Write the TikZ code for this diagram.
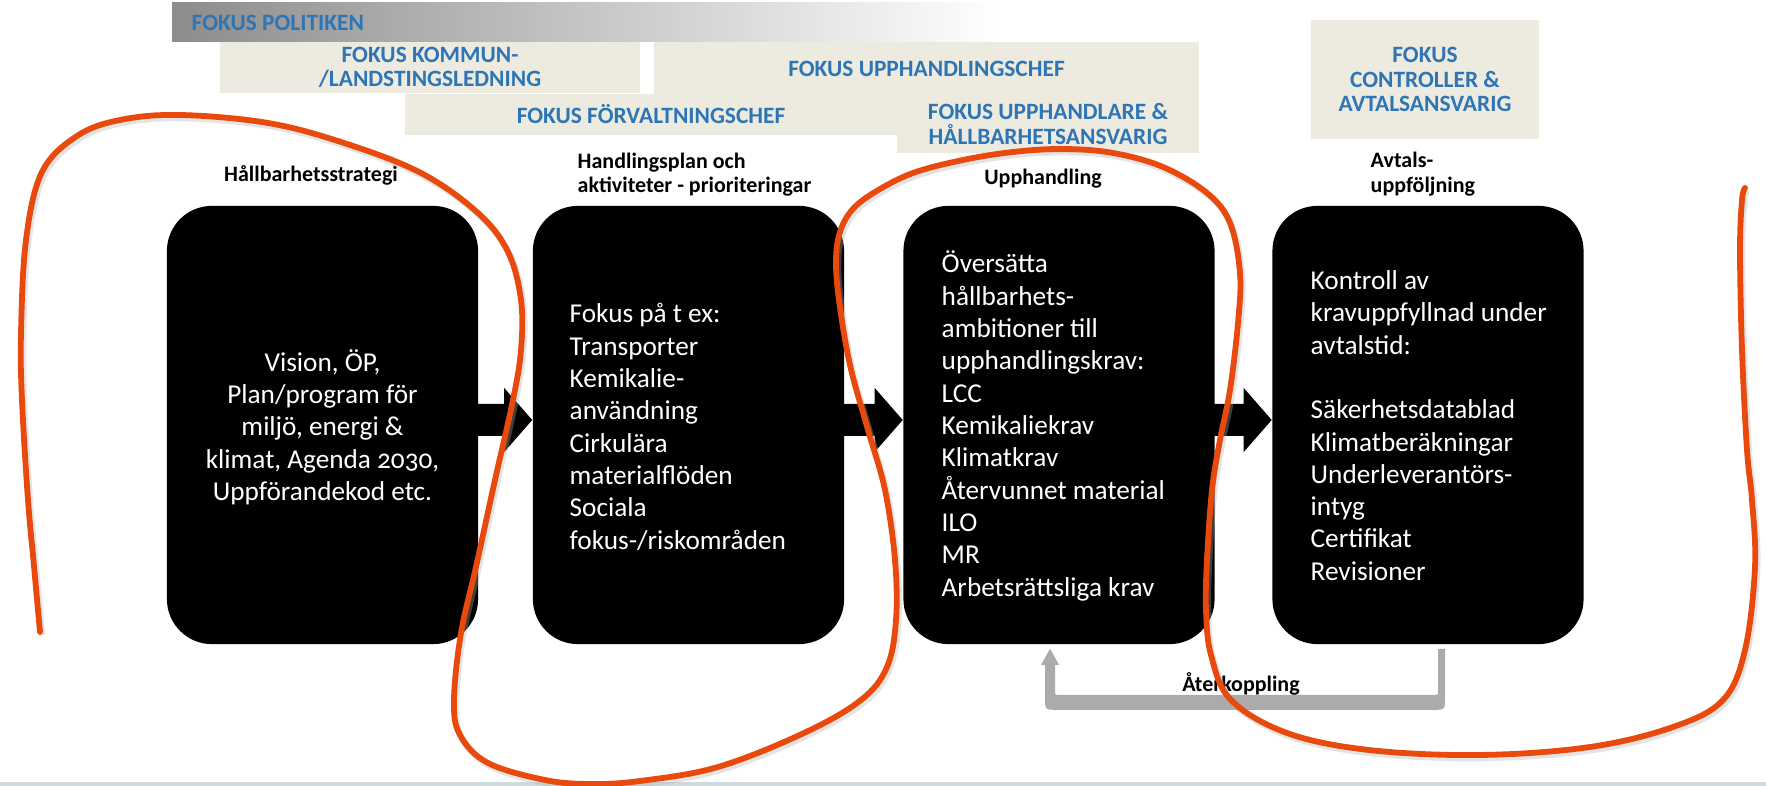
\documentclass[tikz,border=0pt]{standalone}
\usepackage{fontspec}
\setmainfont{Carlito}
\newfontfamily\boxfont{Carlito}[Numbers=OldStyle]
\usetikzlibrary{calc}
\definecolor{beige}{RGB}{237,234,224}
\definecolor{focusblue}{RGB}{46,117,182}
\definecolor{orangered}{RGB}{232,74,14}
\definecolor{fbgray}{RGB}{173,170,170}
\definecolor{stripblue}{RGB}{207,218,224}
\definecolor{bargray}{RGB}{140,140,140}
\tikzset{
  blackbox/.style={fill=black, rounded corners=0.45cm, minimum width=3.11cm, minimum height=4.38cm, inner sep=0pt},
  boxtext/.style={text=white, font=\boxfont\fontsize{7.75}{9.19}\selectfont, inner sep=0pt},
  steplabel/.style={font=\bfseries\fontsize{6.26}{7.0}\selectfont, inner sep=0pt},
  bluefont/.style={font=\bfseries\fontsize{6.65}{6.97}\selectfont},
  bluebox/.style={fill=beige, text=focusblue, bluefont, align=center, inner sep=0pt},
  orangeline/.style={draw=orangered, line width=0.058cm, line cap=round, line join=round},
}
\newcommand\myblockarrow[2]{%
  \fill[black] ($(#1.east)+(-2,-21)$) -- ($(#2.west)+(-28,-21)$) -- ($(#2.west)+(-28,-37)$)
    -- ($(#2.west)+(0,-5)$) -- ($(#2.west)+(-28,27)$) -- ($(#2.west)+(-28,11)$)
    -- ($(#1.east)+(-2,11)$) -- cycle;}
\begin{document}
\begin{tikzpicture}[x=0.01cm, y=-0.01cm]
\useasboundingbox (0,0) rectangle (1766,786);
\fill[white] (0,0) rectangle (1766,786);
\fill[stripblue] (0,782) rectangle (1766,786);

% top focus bars
\shade[left color=bargray, right color=white] (172,3) rectangle (1000,42);
\node[anchor=west, text=focusblue, bluefont, inner sep=0pt] (pol) at (191,23) {FOKUS POLITIKEN};
\node[bluebox, minimum width=4.20cm, minimum height=0.51cm] (kom) at (430,67.5) {FOKUS KOMMUN-\\/LANDSTINGSLEDNING};
\node[bluebox, minimum width=5.45cm, minimum height=0.53cm] (uch) at (926.5,68.5) {FOKUS UPPHANDLINGSCHEF};
\node[bluebox, minimum width=4.92cm, minimum height=0.41cm] (fch) at (651,114.5) {FOKUS FÖRVALTNINGSCHEF};
\node[bluebox, minimum width=3.02cm, minimum height=0.58cm] (uha) at (1048,124) {FOKUS UPPHANDLARE \&\\HÅLLBARHETSANSVARIG};
\node[bluebox, minimum width=2.28cm, minimum height=1.19cm] (ctl) at (1425,79.5) {FOKUS\\CONTROLLER \&\\AVTALSANSVARIG};

% step labels
\node[steplabel] (l1) at (311,175) {Hållbarhetsstrategi};
\node[steplabel, anchor=west, align=left] (l2) at (577,174.5) {Handlingsplan och\\aktiviteter - prioriteringar};
\node[steplabel] (l3) at (1043,179) {Upphandling};
\node[steplabel, anchor=west, align=left] (l4) at (1370,174) {Avtals-\\uppföljning};

% black boxes
\node[blackbox] (b1) at (322.5,425) {};
\node[blackbox] (b2) at (688.5,425) {};
\node[blackbox] (b3) at (1059,425) {};
\node[blackbox] (b4) at (1428,425) {};

\myblockarrow{b1}{b2}
\myblockarrow{b2}{b3}
\myblockarrow{b3}{b4}

% box texts
\node[boxtext, align=center] (t1) at (322.5,427) {Vision, ÖP,\\Plan/program för\\miljö, energi \&\\klimat, Agenda 2030,\\Uppförandekod etc.};
\node[boxtext, align=left, anchor=west] (t2) at (569,427) {Fokus på t ex:\\Transporter\\Kemikalie-\\användning\\Cirkulära\\materialflöden\\Sociala\\fokus-/riskområden};
\node[boxtext, align=left, anchor=west] (t3) at (941,426) {Översätta\\hållbarhets-\\ambitioner till\\upphandlingskrav:\\LCC\\Kemikaliekrav\\Klimatkrav\\Återvunnet material\\ILO\\MR\\Arbetsrättsliga krav};
\node[boxtext, align=left, anchor=west] (t4) at (1310,425.5) {Kontroll av\\kravuppfyllnad under\\avtalstid:\\\mbox{}\\Säkerhetsdatablad\\Klimatberäkningar\\Underleverantörs-\\intyg\\Certifikat\\Revisioner};

% feedback arrow from b4 to b3
\fill[fbgray] ($(b4.south)+(10,4)$) -- ($(b4.south)+(17,4)$) -- ($(b4.south)+(17,53)$)
  .. controls ($(b4.south)+(17,65)$) .. ($(b4.south)+(5,65)$)
  -- ($(b3.south)+(-2,65)$) .. controls ($(b3.south)+(-14,65)$) .. ($(b3.south)+(-14,53)$)
  -- ($(b3.south)+(-14,20)$) -- ($(b3.south)+(-18,20)$) -- ($(b3.south)+(-9,4)$)
  -- ($(b3.south)+(0,20)$) -- ($(b3.south)+(-4,20)$) -- ($(b3.south)+(-4,46)$)
  .. controls ($(b3.south)+(-4,50)$) .. ($(b3.south)+(0,50)$)
  -- ($(b4.south)+(6,50)$) .. controls ($(b4.south)+(10,50)$) .. ($(b4.south)+(10,46)$) -- cycle;
\node[steplabel] (fb) at (1241,684) {Återkoppling};

% orange freehand stroke
\draw[orangeline, preaction={draw=black!30, line width=0.065cm, opacity=0.35, transform canvas={xshift=0.02cm, yshift=-0.03cm}}]
  plot[smooth, tension=0.6] coordinates {
  (40,632) (34,566) (28,500) (22,400) (21,333) (26,240) (42,172) (77,136) (120,120) (180,115)
  (268,123) (344,143) (421,173) (478,213) (508,252) (521,300) (521,350) (513,400) (495,480)
  (476,567) (461,633) (454,700) (460,735) (488,763) (545,780) (590,784) (640,781) (718,767)
  (804,733) (861,700) (887,667) (896,620) (895,560) (885,490) (868,430) (850,365) (839,300)
  (836,260) (840,232) (852,210) (875,192) (913,173) (963,160) (1013,152) (1063,149) (1113,153)
  (1163,167) (1207,193) (1230,223) (1240,273) (1238,323) (1230,390) (1220,440) (1212,490)
  (1207,560) (1206,610) (1211,655) (1231,700) (1287,733) (1369,750) (1480,755) (1590,747)
  (1673,727) (1723,700) (1745,650) (1755,567) (1752,500) (1747,450) (1742,350) (1740,250)
  (1742,200) (1745,188)};
\end{tikzpicture}
\end{document}
